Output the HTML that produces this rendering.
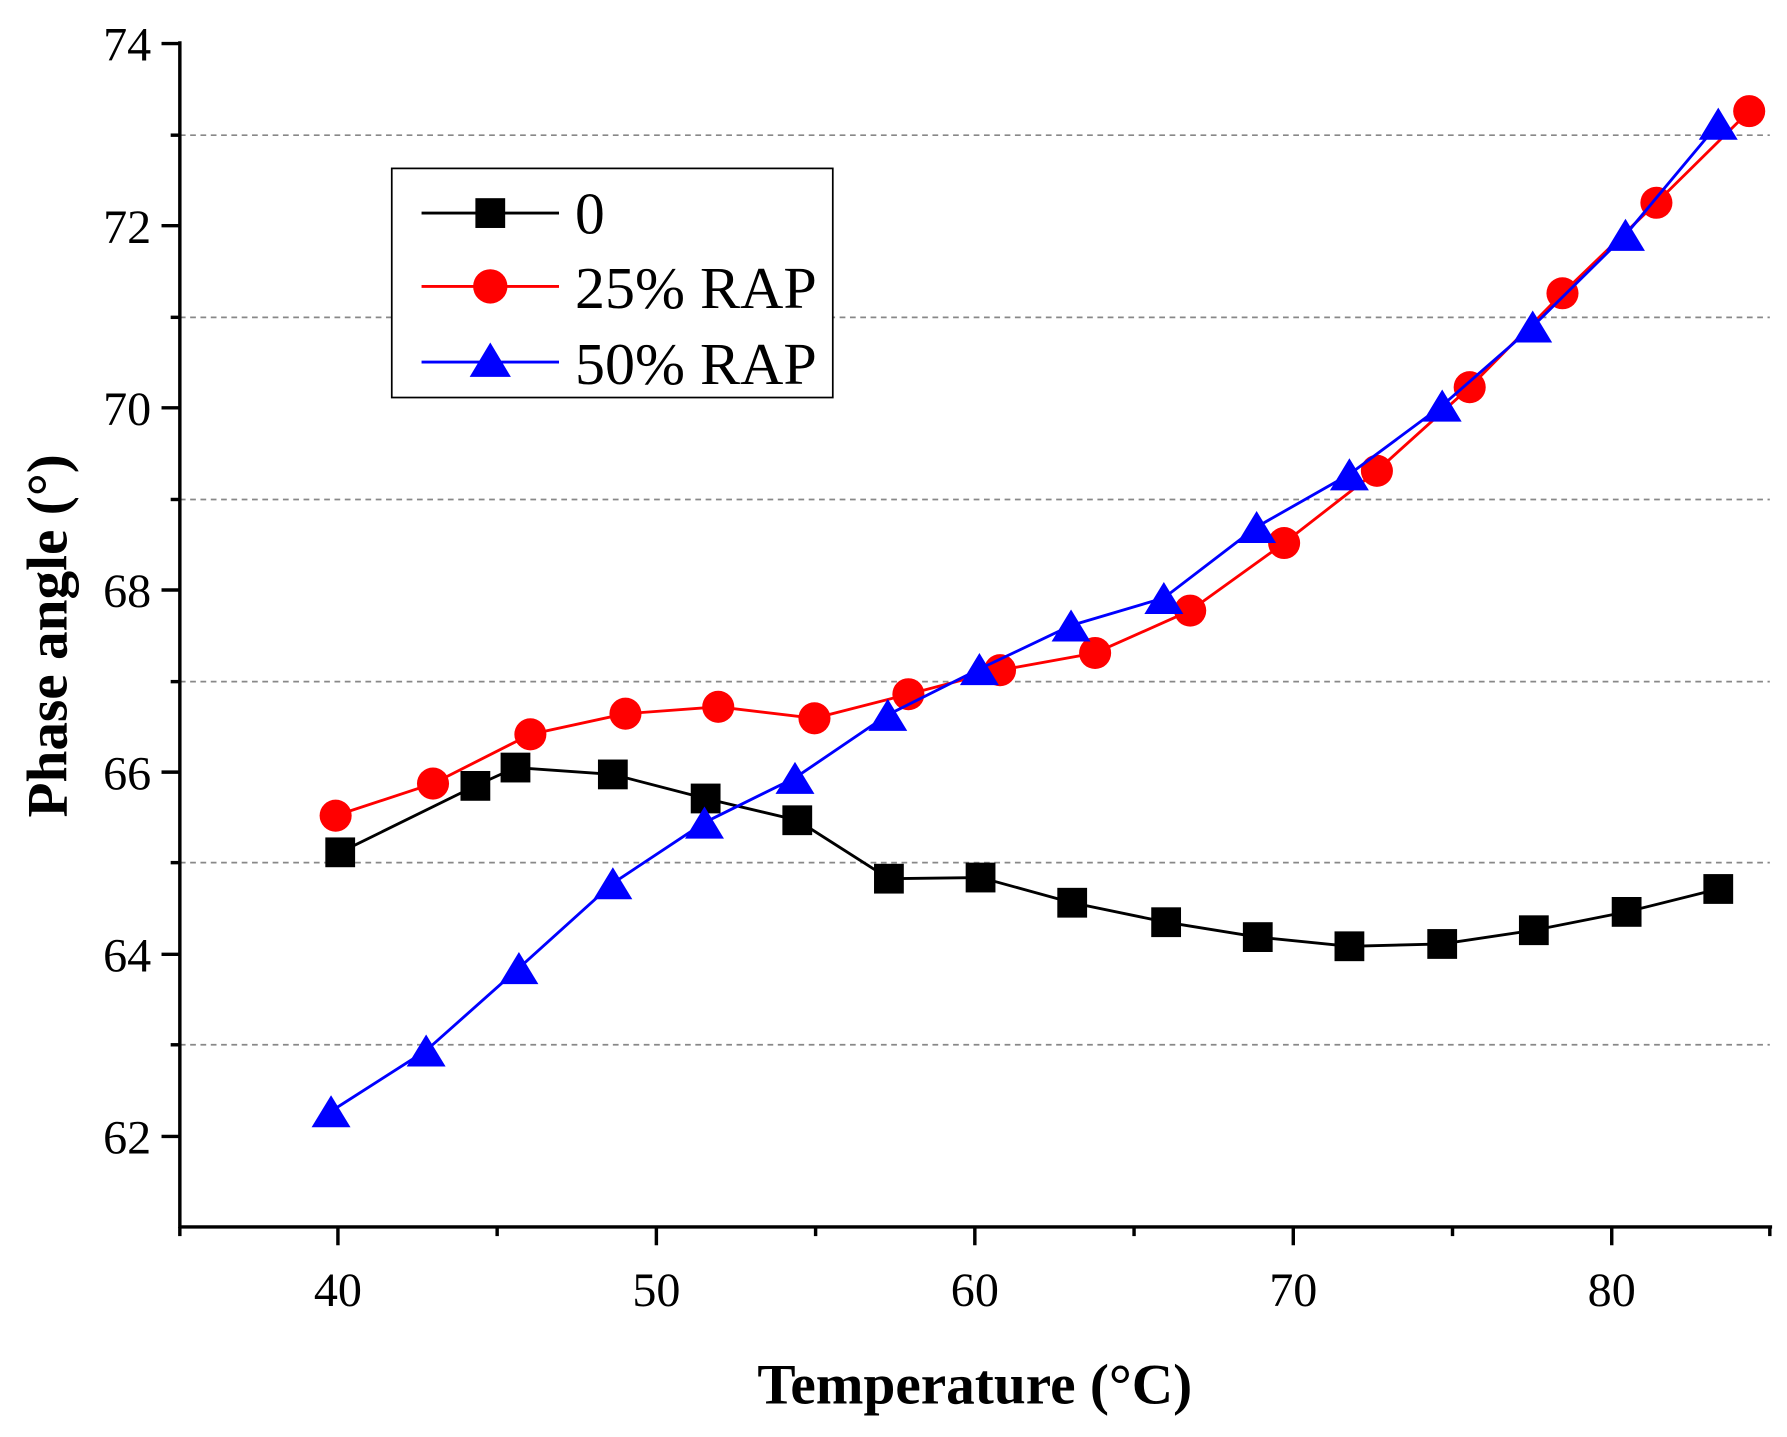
<!DOCTYPE html>
<html><head><style>html,body{margin:0;padding:0;background:#fff}</style></head>
<body>
<svg width="1787" height="1432" viewBox="0 0 1560 1250" preserveAspectRatio="none" xmlns="http://www.w3.org/2000/svg" font-family="Liberation Serif, serif">
<rect width="1560" height="1250" fill="#fff"/>
<g stroke="#888" stroke-width="1.5" stroke-dasharray="5,4">
<line x1="157" x2="1545" y1="118" y2="118"/><line x1="157" x2="1545" y1="277" y2="277"/>
<line x1="157" x2="1545" y1="436" y2="436"/><line x1="157" x2="1545" y1="595" y2="595"/>
<line x1="157" x2="1545" y1="753" y2="753"/><line x1="157" x2="1545" y1="912" y2="912"/>
</g>
<g stroke="#000" stroke-width="3">
<line x1="157" y1="36" x2="157" y2="1072"/><line x1="156" y1="1071" x2="1547" y2="1071"/>
<line x1="141" x2="157" y1="38" y2="38"/><line x1="141" x2="157" y1="197" y2="197"/><line x1="141" x2="157" y1="356" y2="356"/><line x1="141" x2="157" y1="515" y2="515"/><line x1="141" x2="157" y1="674" y2="674"/><line x1="141" x2="157" y1="833" y2="833"/><line x1="141" x2="157" y1="992" y2="992"/>
<line x1="149" x2="157" y1="118" y2="118"/><line x1="149" x2="157" y1="277" y2="277"/><line x1="149" x2="157" y1="436" y2="436"/><line x1="149" x2="157" y1="595" y2="595"/><line x1="149" x2="157" y1="753" y2="753"/><line x1="149" x2="157" y1="912" y2="912"/>
<line x1="295" x2="295" y1="1071" y2="1087"/><line x1="573" x2="573" y1="1071" y2="1087"/><line x1="851" x2="851" y1="1071" y2="1087"/><line x1="1129" x2="1129" y1="1071" y2="1087"/><line x1="1407" x2="1407" y1="1071" y2="1087"/>
<line x1="157" x2="157" y1="1071" y2="1079"/><line x1="434" x2="434" y1="1071" y2="1079"/><line x1="712" x2="712" y1="1071" y2="1079"/><line x1="990" x2="990" y1="1071" y2="1079"/><line x1="1268" x2="1268" y1="1071" y2="1079"/><line x1="1545" x2="1545" y1="1071" y2="1079"/>
</g>
<g font-size="42" text-anchor="end">
<text x="132" y="53">74</text><text x="132" y="212">72</text><text x="132" y="371">70</text><text x="132" y="530">68</text><text x="132" y="689">66</text><text x="132" y="848">64</text><text x="132" y="1007">62</text>
</g>
<g font-size="42" text-anchor="middle">
<text x="295" y="1140">40</text><text x="573" y="1140">50</text><text x="851" y="1140">60</text><text x="1129" y="1140">70</text><text x="1407" y="1140">80</text>
</g>
<text x="851" y="1225" font-size="50" font-weight="bold" text-anchor="middle">Temperature (°C)</text>
<text transform="translate(58,555) rotate(-90)" font-size="50" font-weight="bold" text-anchor="middle">Phase angle (°)</text>

<polyline fill="none" stroke="#000" stroke-width="2.5" points="297,744 415,686 450,670 535,676 616,697 696,716 776,767 856,766 936,788 1018,805 1098,818 1178,826 1259,824 1339,812 1420,796 1500,776"/>
<g fill="#000">
<rect x="284" y="731" width="26" height="26"/><rect x="402" y="673" width="26" height="26"/><rect x="437" y="657" width="26" height="26"/><rect x="522" y="663" width="26" height="26"/><rect x="603" y="684" width="26" height="26"/><rect x="683" y="703" width="26" height="26"/><rect x="763" y="754" width="26" height="26"/><rect x="843" y="753" width="26" height="26"/><rect x="923" y="775" width="26" height="26"/><rect x="1005" y="792" width="26" height="26"/><rect x="1085" y="805" width="26" height="26"/><rect x="1165" y="813" width="26" height="26"/><rect x="1246" y="811" width="26" height="26"/><rect x="1326" y="799" width="26" height="26"/><rect x="1407" y="783" width="26" height="26"/><rect x="1487" y="763" width="26" height="26"/>
</g>
<polyline fill="none" stroke="#f00" stroke-width="2.5" points="293,712 378,684 463,641 546,623 627,617 711,627 793,606 873,585 956,570 1039,533 1121,474 1202,411 1283,338 1364,256 1446,177 1527,97"/>
<g fill="#f00">
<circle cx="293" cy="712" r="14"/><circle cx="378" cy="684" r="14"/><circle cx="463" cy="641" r="14"/><circle cx="546" cy="623" r="14"/><circle cx="627" cy="617" r="14"/><circle cx="711" cy="627" r="14"/><circle cx="793" cy="606" r="14"/><circle cx="873" cy="585" r="14"/><circle cx="956" cy="570" r="14"/><circle cx="1039" cy="533" r="14"/><circle cx="1121" cy="474" r="14"/><circle cx="1202" cy="411" r="14"/><circle cx="1283" cy="338" r="14"/><circle cx="1364" cy="256" r="14"/><circle cx="1446" cy="177" r="14"/><circle cx="1527" cy="97" r="14"/>
</g>
<polyline fill="none" stroke="#00f" stroke-width="2.5" points="289,970 372,917 453,845 535,771 615,718 694,679 775,624 855,584 935,546 1016,522 1097,460 1178,414 1259,354 1338,285 1419,205 1500,108"/>
<g fill="#00f">
<path d="M289,956 l17,28 h-34z"/><path d="M372,903 l17,28 h-34z"/><path d="M453,831 l17,28 h-34z"/><path d="M535,757 l17,28 h-34z"/><path d="M615,704 l17,28 h-34z"/><path d="M694,665 l17,28 h-34z"/><path d="M775,610 l17,28 h-34z"/><path d="M855,570 l17,28 h-34z"/><path d="M935,532 l17,28 h-34z"/><path d="M1016,508 l17,28 h-34z"/><path d="M1097,446 l17,28 h-34z"/><path d="M1178,400 l17,28 h-34z"/><path d="M1259,340 l17,28 h-34z"/><path d="M1338,271 l17,28 h-34z"/><path d="M1419,191 l17,28 h-34z"/><path d="M1500,94 l17,28 h-34z"/>
</g>

<rect x="342" y="147" width="385" height="200" fill="#fff" stroke="#000" stroke-width="1.5"/>
<line x1="368" x2="488" y1="186" y2="186" stroke="#000" stroke-width="2.5"/><rect x="415" y="173" width="26" height="26"/>
<line x1="368" x2="488" y1="250" y2="250" stroke="#f00" stroke-width="2.5"/><circle cx="428" cy="250" r="15" fill="#f00"/>
<line x1="368" x2="488" y1="316" y2="316" stroke="#00f" stroke-width="2.5"/><path d="M428,299 l18,30 h-36z" fill="#00f"/>
<g font-size="52"><text x="502" y="204">0</text><text x="502" y="269" textLength="211" lengthAdjust="spacingAndGlyphs">25% RAP</text><text x="502" y="335" textLength="211" lengthAdjust="spacingAndGlyphs">50% RAP</text></g>
</svg>
</body></html>
